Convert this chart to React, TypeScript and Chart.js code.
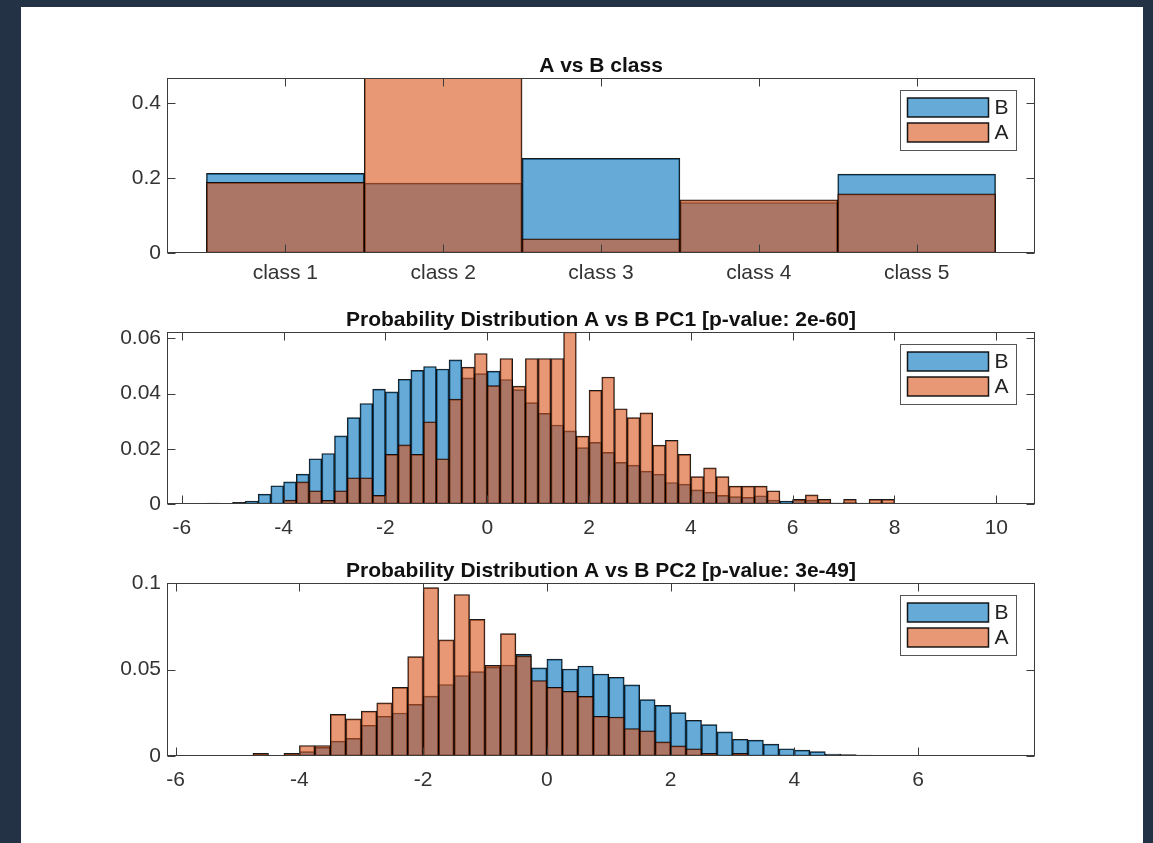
import React, { useEffect, useRef } from "react";
import { Chart, registerables } from "chart.js";

Chart.register(...registerables);

// ---------------- data ----------------
const legendOrder = ["B", "A"];

const classLabels = ["class 1", "class 2", "class 3", "class 4", "class 5"];
const classPositions = [1, 2, 3, 4, 5];
const classB = [0.213, 0.187, 0.253, 0.135, 0.211];
const classA = [0.189, 0.47, 0.038, 0.142, 0.158];
const classYTicks = [0, 0.2, 0.4];

const binWidth = 0.25;

const pc1BinStart = -5.5;
const pc1B = [
  0.0003, 0, 0.0006, 0.0011, 0.0036, 0.0066, 0.008, 0.0108, 0.0164, 0.0183,
  0.0247, 0.0313, 0.0364, 0.0416, 0.0406, 0.0452, 0.0484, 0.0498, 0.0489, 0.0522,
  0.0457, 0.0472, 0.0481, 0.0451, 0.0414, 0.0367, 0.0328, 0.0286, 0.0265, 0.0204,
  0.0223, 0.0187, 0.0151, 0.0141, 0.0119, 0.0108, 0.0078, 0.0072, 0.0051, 0.0043,
  0.0031, 0.0027, 0.0024, 0.003, 0.0014, 0.0011, 0.0015, 0.0014, 0.0008, 0.0003,
  0.0008, 0.0003, 0.0004, 0.0004, 0, 0.0002, 0.0002, 0, 0, 0, 0, 0.0002,
];
const pc1A = [
  0.0002, 0, 0.0005, 0, 0, 0, 0.0014, 0.008, 0.0048, 0.0013,
  0.0048, 0.0095, 0.0095, 0.0031, 0.018, 0.0214, 0.018, 0.0298, 0.0164, 0.038,
  0.0496, 0.0545, 0.0429, 0.0527, 0.0427, 0.0527, 0.0527, 0.0527, 0.0623, 0.0246,
  0.0412, 0.046, 0.0345, 0.0313, 0.033, 0.0213, 0.0231, 0.018, 0.0099, 0.0131,
  0.0099, 0.0065, 0.0065, 0.0065, 0.0048, 0, 0.0017, 0.0033, 0.0017, 0.0003,
  0.0017, 0.0002, 0.0017, 0.0017, 0, 0, 0, 0, 0, 0, 0, 0,
];
const pc1XTicks = [-6, -4, -2, 0, 2, 4, 6, 8, 10];
const pc1YTicks = [0, 0.02, 0.04, 0.06];

const pc2BinStart = -4.75;
const pc2B = [
  0.0008, 0.0002, 0.0008, 0.0025, 0.005, 0.0086, 0.0102, 0.0178, 0.023, 0.0249,
  0.0299, 0.0347, 0.0414, 0.0466, 0.0489, 0.0515, 0.0527, 0.0588, 0.051, 0.0561,
  0.0504, 0.0521, 0.0475, 0.0456, 0.0412, 0.0326, 0.0293, 0.0251, 0.0207, 0.0182,
  0.014, 0.0097, 0.0092, 0.0069, 0.0042, 0.0034, 0.0025, 0.0011, 0.0008, 0.0006,
  0.0004, 0.0002,
];
const pc2A = [
  0.0015, 0.0004, 0.0015, 0.0061, 0.0061, 0.0241, 0.0215, 0.026, 0.0308, 0.0397,
  0.0575, 0.0975, 0.0672, 0.0935, 0.0791, 0.0525, 0.0709, 0.058, 0.0437, 0.0398,
  0.0375, 0.0345, 0.023, 0.0226, 0.0159, 0.0146, 0.0082, 0.0059, 0.0042, 0.0015,
  0.0004, 0.0015, 0, 0, 0, 0.0003, 0, 0, 0, 0,
  0, 0,
];
const pc2XTicks = [-6, -4, -2, 0, 2, 4, 6];
const pc2YTicks = [0, 0.05, 0.1];

// ---------------- styling ----------------
const FONT = "'Liberation Sans', Arial, Helvetica, sans-serif";
const AXIS_COLOR = "#3c3c3c";
const TEXT_COLOR = "#333333";
const COLOR_B = "rgba(0,114,189,0.6)";
const COLOR_A = "rgba(217,83,25,0.6)";
const EDGE = "rgba(0,0,0,0.9)";
const TICK_FONT = 21;
const TITLE_FONT = 21;

type Pt = { x: number; y: number };

const binPoints = (start: number, values: number[]): Pt[] =>
  values.map((y, i) => ({ x: start + binWidth * (i + 0.5), y }));

type PanelSpec = {
  title: string;
  top: number;
  height: number;
  areaTop: number;
  areaBottom: number;
  xMin: number;
  xMax: number;
  yMax: number;
  xTicks: number[];
  yTicks: number[];
  xLabel: (v: number) => string;
  xPad: number;
  pointsA: Pt[];
  pointsB: Pt[];
};

const AREA_LEFT = 167;
const AREA_RIGHT = 1035;
const Y_AXIS_W = 60;
const X_AXIS_H = 45;
const W = 1153;

const fmt = (v: number) => String(+v.toFixed(4));

const panels: PanelSpec[] = [
  {
    title: "A vs B class",
    top: 10,
    height: 290,
    areaTop: 78.3,
    areaBottom: 253,
    xMin: 0.25,
    xMax: 5.75,
    yMax: 0.467,
    xTicks: classPositions,
    yTicks: classYTicks,
    xLabel: (v) => classLabels[classPositions.indexOf(v)] ?? "",
    xPad: 8,
    pointsA: classPositions.map((x, i) => ({ x, y: classA[i] })),
    pointsB: classPositions.map((x, i) => ({ x, y: classB[i] })),
  },
  {
    title: "Probability Distribution A vs B PC1 [p-value: 2e-60]",
    top: 300,
    height: 250,
    areaTop: 332,
    areaBottom: 504,
    xMin: -6.29,
    xMax: 10.76,
    yMax: 0.0623,
    xTicks: pc1XTicks,
    yTicks: pc1YTicks,
    xLabel: fmt,
    xPad: 12,
    pointsA: binPoints(pc1BinStart, pc1A),
    pointsB: binPoints(pc1BinStart, pc1B),
  },
  {
    title: "Probability Distribution A vs B PC2 [p-value: 3e-49]",
    top: 550,
    height: 293,
    areaTop: 583.3,
    areaBottom: 756,
    xMin: -6.14,
    xMax: 7.89,
    yMax: 0.1,
    xTicks: pc2XTicks,
    yTicks: pc2YTicks,
    xLabel: fmt,
    xPad: 12,
    pointsA: binPoints(pc2BinStart, pc2A),
    pointsB: binPoints(pc2BinStart, pc2B),
  },
];

const framePlugin = {
  id: "matlabFrame",
  afterDatasetsDraw(chart: any, _args: any, opts: any) {
    const { ctx, chartArea: a, scales } = chart;
    ctx.save();
    ctx.strokeStyle = AXIS_COLOR;
    ctx.lineWidth = 1;
    const L = Math.round(a.left) + 0.5;
    const R = Math.round(a.right) - 0.5;
    const T = Math.round(a.top) + 0.5;
    const B = Math.round(a.bottom) - 0.5;
    ctx.strokeRect(L, T, R - L, B - T);
    const tl = 8;
    ctx.beginPath();
    for (const t of scales.x.ticks) {
      const px = Math.round(scales.x.getPixelForValue(t.value)) + 0.5;
      ctx.moveTo(px, B);
      ctx.lineTo(px, B - tl);
      ctx.moveTo(px, T);
      ctx.lineTo(px, T + tl);
    }
    for (const t of scales.y.ticks) {
      const py = Math.round(scales.y.getPixelForValue(t.value)) + 0.5;
      ctx.moveTo(L, py);
      ctx.lineTo(L + tl, py);
      ctx.moveTo(R, py);
      ctx.lineTo(R - tl, py);
    }
    ctx.stroke();

    // title
    ctx.fillStyle = "#111111";
    ctx.font = `bold ${TITLE_FONT}px ${FONT}`;
    ctx.textAlign = "center";
    ctx.textBaseline = "middle";
    ctx.fillText(opts.title, (a.left + a.right) / 2, a.top - 12);

    // legend (inside, upper right)
    const bw = 116;
    const bh = 60;
    const bx = Math.round(a.right - 19 - bw) + 0.5;
    const by = Math.round(a.top + 12) + 0.5;
    ctx.fillStyle = "#ffffff";
    ctx.fillRect(bx, by, bw, bh);
    ctx.strokeStyle = "#555555";
    ctx.strokeRect(bx, by, bw, bh);
    ctx.font = `${TICK_FONT}px ${FONT}`;
    ctx.textAlign = "left";
    legendOrder.forEach((name, i) => {
      const ds = chart.data.datasets.find((d: any) => d.label === name);
      if (!ds) return;
      const sy = by + 7.5 + i * 25;
      ctx.fillStyle = ds.backgroundColor;
      ctx.fillRect(bx + 7, sy, 81, 19);
      ctx.strokeStyle = ds.borderColor;
      ctx.lineWidth = 1.5;
      ctx.strokeRect(bx + 7, sy, 81, 19);
      ctx.fillStyle = "#222222";
      ctx.fillText(name, bx + 94, sy + 10);
    });
    ctx.restore();
  },
};

function Panel({ spec }: { spec: PanelSpec }) {
  const ref = useRef<HTMLCanvasElement>(null);
  useEffect(() => {
    const canvas = ref.current!;
    const xTicks = spec.xTicks;
    const yTicks = spec.yTicks;
    const chart = new Chart(canvas, {
      type: "bar",
      data: {
        datasets: [
          {
            label: "A",
            data: spec.pointsA as any,
            backgroundColor: COLOR_A,
            borderColor: EDGE,
            borderWidth: 1,
            borderSkipped: false,
            grouped: false,
            barPercentage: 1,
            categoryPercentage: 1,
            order: 0,
          } as any,
          {
            label: "B",
            data: spec.pointsB as any,
            backgroundColor: COLOR_B,
            borderColor: EDGE,
            borderWidth: 1,
            borderSkipped: false,
            grouped: false,
            barPercentage: 1,
            categoryPercentage: 1,
            order: 1,
          } as any,
        ],
      },
      options: {
        animation: false,
        responsive: false,
        devicePixelRatio: 1,
        layout: {
          padding: {
            left: AREA_LEFT - Y_AXIS_W,
            right: W - AREA_RIGHT,
            top: spec.areaTop - spec.top,
            bottom: spec.top + spec.height - spec.areaBottom - X_AXIS_H,
          },
        },
        plugins: {
          legend: { display: false },
          title: { display: false },
          tooltip: { enabled: false },
          matlabFrame: { title: spec.title },
        } as any,
        scales: {
          x: {
            type: "linear",
            offset: false,
            min: spec.xMin,
            max: spec.xMax,
            grid: { display: false, drawTicks: false, offset: false },
            border: { display: false },
            afterBuildTicks: (s: any) => {
              s.ticks = xTicks.map((v) => ({ value: v }));
            },
            afterFit: (s: any) => {
              s.height = X_AXIS_H;
            },
            ticks: {
              autoSkip: false,
              maxRotation: 0,
              padding: spec.xPad,
              color: TEXT_COLOR,
              font: { family: FONT, size: TICK_FONT },
              callback: (v: any) => spec.xLabel(Number(v)),
            },
          },
          y: {
            type: "linear",
            min: 0,
            max: spec.yMax,
            grid: { display: false, drawTicks: false },
            border: { display: false },
            afterBuildTicks: (s: any) => {
              s.ticks = yTicks.map((v) => ({ value: v }));
            },
            afterFit: (s: any) => {
              s.width = Y_AXIS_W;
            },
            ticks: {
              autoSkip: false,
              padding: 6,
              color: TEXT_COLOR,
              font: { family: FONT, size: TICK_FONT },
              callback: (v: any) => fmt(Number(v)),
            },
          },
        },
      },
      plugins: [framePlugin as any],
    });
    return () => chart.destroy();
  }, [spec]);
  return (
    <canvas
      ref={ref}
      width={W}
      height={spec.height}
      style={{ position: "absolute", left: 0, top: spec.top, width: W, height: spec.height }}
    />
  );
}

export default function App() {
  return (
    <div
      style={{
        position: "fixed",
        left: 0,
        top: 0,
        width: 1153,
        height: 843,
        background: "#243246",
        overflow: "hidden",
      }}
    >
      <div
        style={{
          position: "absolute",
          left: 21,
          top: 7,
          width: 1122,
          height: 836,
          background: "#ffffff",
        }}
      />
      {panels.map((p, i) => (
        <Panel key={i} spec={p} />
      ))}
    </div>
  );
}
